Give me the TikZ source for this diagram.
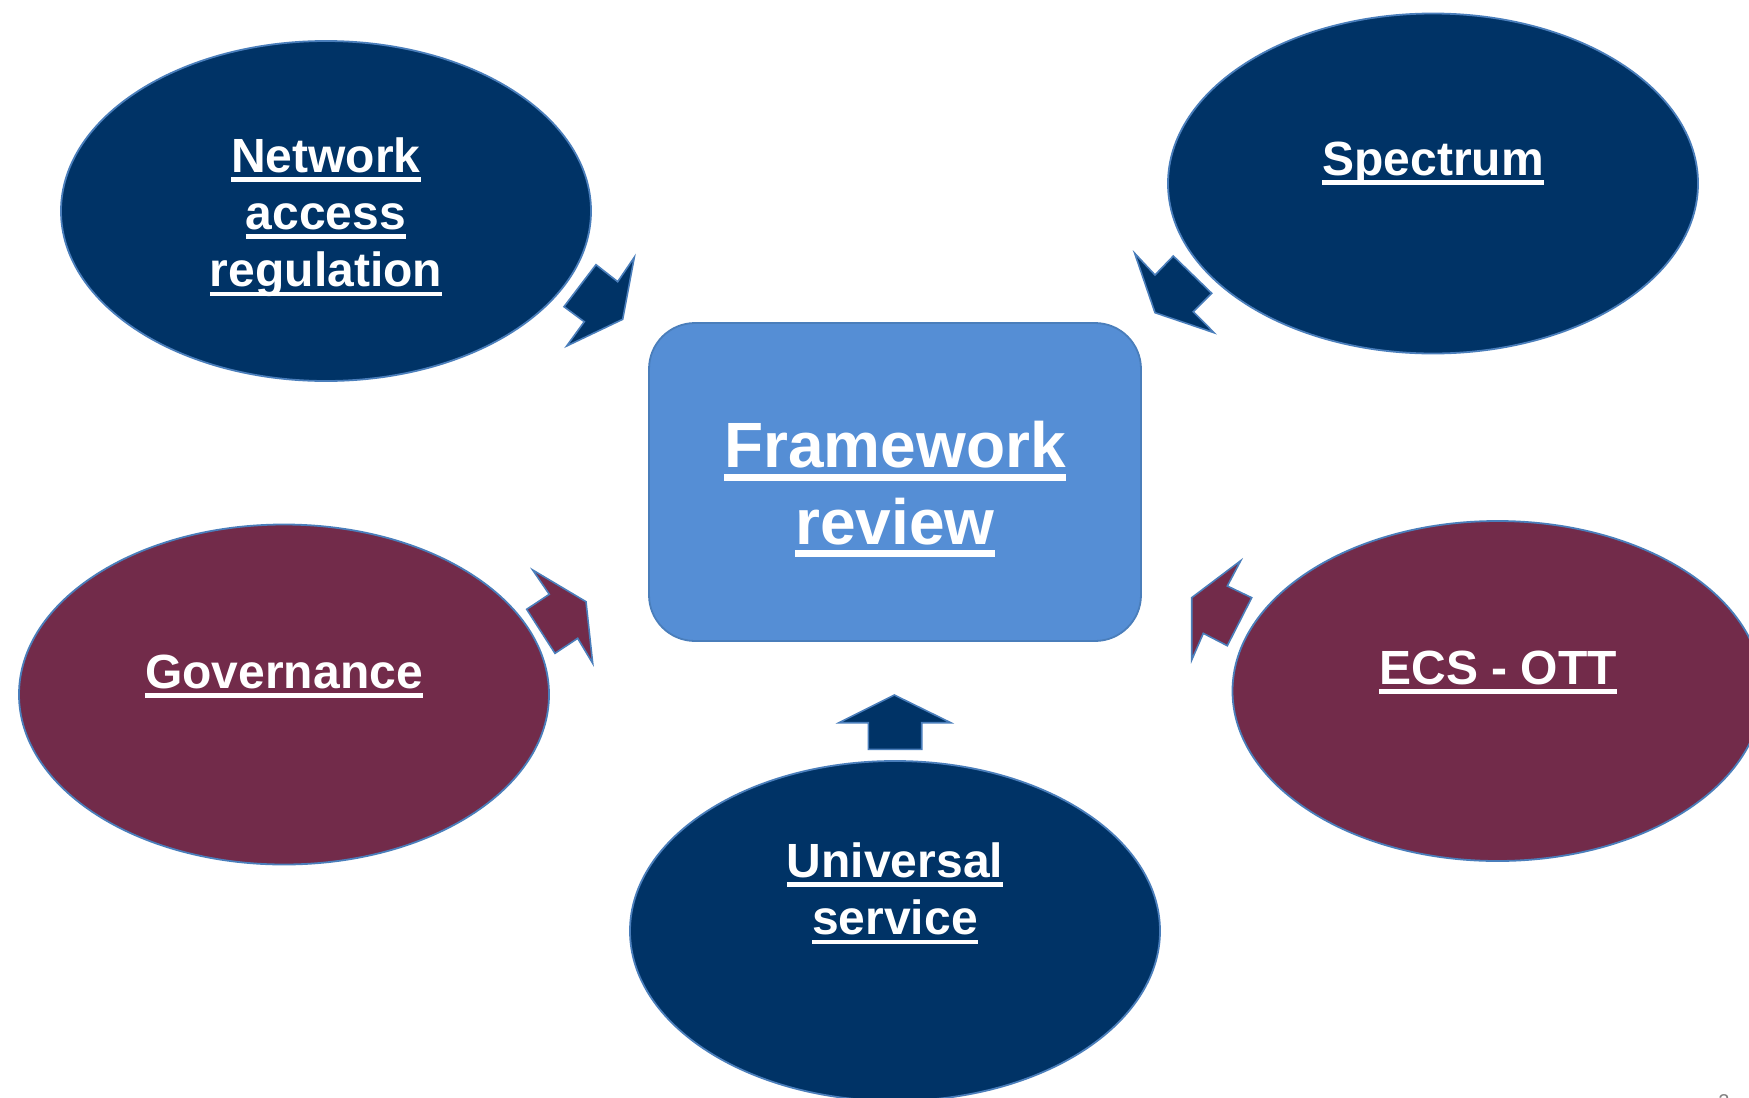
\documentclass[tikz,border=0pt]{standalone}
\usepackage{fontspec}
\setmainfont{Liberation Sans}
\usetikzlibrary{shapes.geometric}
\definecolor{navy}{RGB}{0,51,102}
\definecolor{maroon}{RGB}{114,43,74}
\definecolor{boxblue}{RGB}{85,142,213}
\definecolor{edgeblue}{RGB}{74,126,187}
\newcommand\ulw[1]{\setbox0\hbox{#1}\rlap{\rule[-0.2em]{\wd0}{0.1em}}\box0}
\tikzset{
  blob/.style={ellipse, draw=edgeblue, line width=1.8pt, minimum width=530pt, minimum height=340pt, inner sep=0pt},
  navyblob/.style={blob, fill=navy},
  maroonblob/.style={blob, fill=maroon},
  lbl/.style={text=white, inner sep=0pt, anchor=base, font=\bfseries\fontsize{48}{57.4}\selectfont},
  biglbl/.style={lbl, font=\bfseries\fontsize{64}{76.8}\selectfont},
  blockarrow/.style={draw=edgeblue, line width=1.6pt, line join=miter},
}
\begin{document}
\begin{tikzpicture}[x=1pt,y=-1pt]
\useasboundingbox (0,0) rectangle (1749,1098);
% central box
\node[draw=edgeblue, line width=1.8pt, fill=boxblue, rounded corners=46pt,
      minimum width=492pt, minimum height=318pt, inner sep=0pt] (fw) at (895,482) {};
\node[biglbl] (fw1) at (895,467.7) {\ulw{Framework}};
\node[biglbl] (fw2) at (895,544) {\ulw{review}};
% ellipses
\node[navyblob] (net) at (326,211) {};
\node[lbl] (net1) at (326,172.2) {\ulw{Network}};
\node[lbl] (net2) at (326,229.4) {\ulw{access}};
\node[lbl] (net3) at (326,286.8) {\ulw{regulation}};
\node[navyblob] (spec) at (1433,183.5) {};
\node[lbl] (spec1) at (1433,175) {\ulw{Spectrum}};
\node[maroonblob] (gov) at (284,694.5) {};
\node[lbl] (gov1) at (284,688.3) {\ulw{Governance}};
\node[maroonblob] (ecs) at (1497.5,691) {};
\node[lbl] (ecs1) at (1498,684.4) {\ulw{ECS - OTT}};
\node[navyblob] (uni) at (895,931) {};
\node[lbl] (uni1) at (895,877.3) {\ulw{Universal}};
\node[lbl] (uni2) at (895,934.7) {\ulw{service}};
% block arrows
\draw[blockarrow, fill=navy] (596,264.7) -- (617.7,281.7) -- (634.3,257.3) -- (622.7,319.3)
  -- (566.7,346) -- (584.3,321.7) -- (564,306.7) -- cycle;
\draw[blockarrow, fill=navy] (1134.7,253.3) -- (1155,275) -- (1173.3,256) -- (1211.7,293.3)
  -- (1193.3,311.7) -- (1214,332.7) -- (1155,312.7) -- cycle;
\draw[blockarrow, fill=maroon] (532.7,570) -- (586,601.7) -- (592.7,663.3) -- (577.7,638.3)
  -- (555,653.3) -- (526.7,609.3) -- (549.3,594.3) -- cycle;
\draw[blockarrow, fill=maroon] (1240.7,560.7) -- (1227.3,586) -- (1251.7,597.7) -- (1227.3,645.7)
  -- (1203.3,633.3) -- (1191.7,660) -- (1191.7,597.7) -- cycle;
\draw[blockarrow, fill=navy] (894.3,695) -- (950.7,722.7) -- (921.7,722.7) -- (921.7,749.3)
  -- (868.3,749.3) -- (868.3,722.7) -- (839,722.7) -- cycle;
% page number (cut off)
\node[text=gray, inner sep=0pt, anchor=base, font=\fontsize{20}{24}\selectfont] (pg) at (1724,1108) {2};
\end{tikzpicture}
\end{document}
